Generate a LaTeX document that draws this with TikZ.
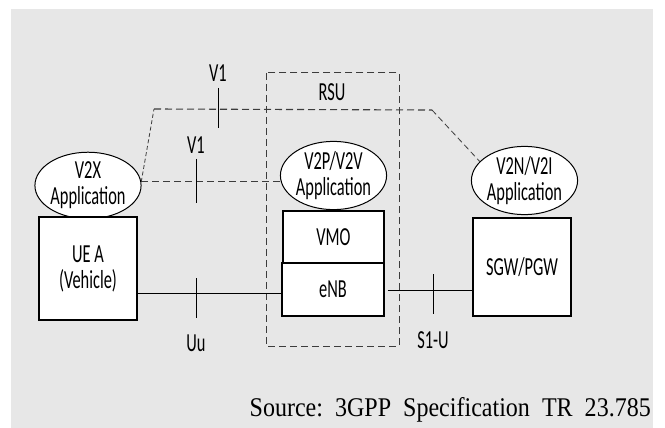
\documentclass[tikz,border=0pt]{standalone}
\usepackage{fontspec}
\usetikzlibrary{shapes.geometric}
\newfontfamily\calfont[FakeStretch=0.63]{Carlito}
\newfontfamily\timesfont[FakeStretch=0.89]{Liberation Serif}
\definecolor{bggray}{RGB}{231,231,231}
\definecolor{dashgray}{RGB}{60,60,60}
\pgfdeclarelayer{bglayer}
\pgfdeclarelayer{linelayer}
\pgfsetlayers{bglayer,linelayer,main}
\tikzset{
  lab/.style={font=\calfont\fontsize{26}{26}\selectfont, inner sep=0pt, align=center},
  appell/.style={ellipse, draw, line width=1pt, fill=white, lab, minimum width=98pt, minimum height=65pt},
  unitbox/.style={rectangle, draw, line width=1.1pt, fill=white, lab},
  link/.style={line width=1pt, black},
  vdash/.style={line width=1.1pt, dashgray, dash pattern=on 7pt off 4pt},
  vdashthin/.style={line width=0.8pt, dashgray, dash pattern=on 4pt off 2.5pt},
  rsubox/.style={line width=1.1pt, dashgray, dash pattern=on 7pt off 4pt},
  tick/.style={line width=1pt, black}
}
\begin{document}
\begin{tikzpicture}[x=1pt,y=-1pt]
\useasboundingbox (0,0) rectangle (665,428);
\begin{pgfonlayer}{bglayer}
  \fill[white] (0,0) rectangle (665,428);
  \fill[bggray] (11,9) rectangle (653,428);
\end{pgfonlayer}

% RSU dashed frame
\node[draw=none, minimum width=132pt, minimum height=273pt, inner sep=0pt] (rsu) at (333,209.5) {};
\begin{pgfonlayer}{linelayer}
  \draw[rsubox] (rsu.north west) rectangle (rsu.south east);
\end{pgfonlayer}
\node[lab] (rsulab) at (332,92) {RSU};

% Ellipses
\node[appell] (v2x) at (88,185.5) {V2X\\Application};
\node[appell, minimum width=99pt] (v2p) at (333.5,175.5) {V2P/V2V\\Application};
\node[appell, minimum width=97pt] (v2n) at (524.5,180.5) {V2N/V2I\\Application};

% Boxes
\node[unitbox, minimum width=98pt, minimum height=103pt] (uea) at (88,268.5) {UE A\\(Vehicle)};
\node[unitbox, minimum width=101pt, minimum height=52pt] (vmo) at (333.5,237) {VMO};
\node[unitbox, minimum width=102pt, minimum height=53pt] (enb) at (333,289.5) {eNB};
\node[unitbox, minimum width=98pt, minimum height=98pt] (sgw) at (522,267) {SGW/PGW};

% bend points of the upper V1 link
\coordinate (b1) at (154,109);
\coordinate (b2) at (432,110);

\begin{pgfonlayer}{linelayer}
  % Uu
  \draw[link] (uea.east |- 0,293) -- (enb.west |- 0,293);
  % S1-U
  \draw[link] ([xshift=3pt]enb.east |- 0,290) -- (sgw.west |- 0,290);
  % lower V1
  \draw[vdash] (v2x.4) -- (v2x.4 -| v2p.west);
  % upper V1
  \draw[vdashthin] (v2x.4) -- (b1);
  \draw[vdash] (b1) -- (b2);
  \draw[vdashthin, dash pattern=on 6pt off 3.5pt] (b2) -- (v2n.157);
\end{pgfonlayer}

% ticks
\draw[tick] (196,278) -- (196,318);
\draw[tick] (433,274) -- (433,314);
\draw[tick] (196,159) -- (196,203);
\draw[tick] (218,88) -- (218,128);

% labels
\node[lab] (uulab) at (196,343) {Uu};
\node[lab] (s1ulab) at (433,340) {S1-U};
\node[lab] (v1low) at (196,145) {V1};
\node[lab] (v1up) at (218,73) {V1};

\node[font=\timesfont\fontsize{27}{30}\selectfont, inner sep=0pt, anchor=base east] (src) at (651,416) {Source:\ \ 3GPP\ \ Specification\ \ TR\ \ 23.785};
\end{tikzpicture}
\end{document}
